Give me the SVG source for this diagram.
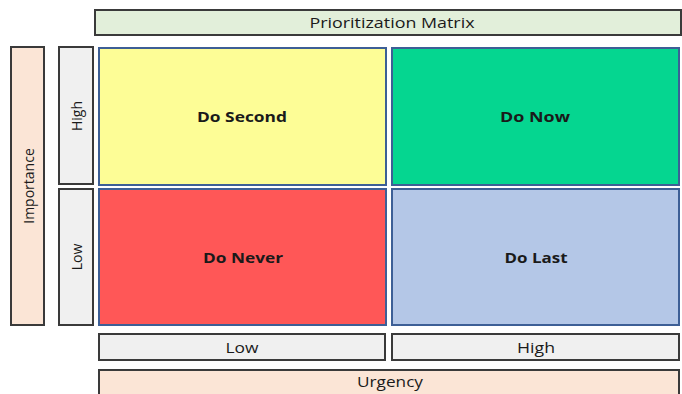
<svg xmlns="http://www.w3.org/2000/svg" width="682" height="394" viewBox="0 0 682 394">
<style>
.lbl{stroke:#3a3a3a;stroke-width:2}
.cell{stroke:#3d5f96;stroke-width:2}
text{font-family:"Open Sans","Liberation Sans",sans-serif;fill:#1a1a1a}
.t{font-size:14.5px;text-anchor:middle;dominant-baseline:central}
.v{font-size:14px;text-anchor:middle;dominant-baseline:central}
.b{font-size:15px;font-weight:bold;text-anchor:middle;dominant-baseline:central}
</style>
<rect width="682" height="394" fill="#ffffff"/>
<g id="title"><rect class="lbl" x="95" y="10" width="586" height="25" fill="#e2efda"/><text class="t" x="392" y="22.5" textLength="165" lengthAdjust="spacingAndGlyphs">Prioritization Matrix</text></g>
<g id="importance"><rect class="lbl" x="11" y="47" width="33" height="278" fill="#fbe5d6"/><text class="v" transform="translate(28,186) rotate(-90)">Importance</text></g>
<g id="imp-high"><rect class="lbl" x="59" y="47" width="34" height="137" fill="#f0f0f0"/><text class="v" transform="translate(76,116) rotate(-90)">High</text></g>
<g id="imp-low"><rect class="lbl" x="59" y="189" width="34" height="136" fill="#f0f0f0"/><text class="v" transform="translate(76,257) rotate(-90)">Low</text></g>
<g id="do-second"><rect class="cell" x="99" y="48" width="287" height="137" fill="#fdfd96"/><text class="b" x="242" y="116" textLength="90" lengthAdjust="spacingAndGlyphs">Do Second</text></g>
<g id="do-now"><rect class="cell" x="392" y="48" width="287" height="137" fill="#05d690"/><text class="b" x="535" y="116" textLength="70" lengthAdjust="spacingAndGlyphs">Do Now</text></g>
<g id="do-never"><rect class="cell" x="99" y="189" width="287" height="136" fill="#ff5757"/><text class="b" x="243" y="257" textLength="80" lengthAdjust="spacingAndGlyphs">Do Never</text></g>
<g id="do-last"><rect class="cell" x="392" y="189" width="287" height="136" fill="#b4c7e7"/><text class="b" x="536" y="257" textLength="63" lengthAdjust="spacingAndGlyphs">Do Last</text></g>
<g id="urg-low"><rect class="lbl" x="99" y="334" width="286" height="26" fill="#f0f0f0"/><text class="t" x="242" y="347.5" textLength="33" lengthAdjust="spacingAndGlyphs">Low</text></g>
<g id="urg-high"><rect class="lbl" x="392" y="334" width="287" height="26" fill="#f0f0f0"/><text class="t" x="536" y="347.5" textLength="38" lengthAdjust="spacingAndGlyphs">High</text></g>
<g id="urgency"><rect class="lbl" x="99" y="370" width="580" height="30" fill="#fbe5d6"/><text class="t" x="390" y="381.5" textLength="66" lengthAdjust="spacingAndGlyphs">Urgency</text></g>
<g id="connectors"/>
</svg>
